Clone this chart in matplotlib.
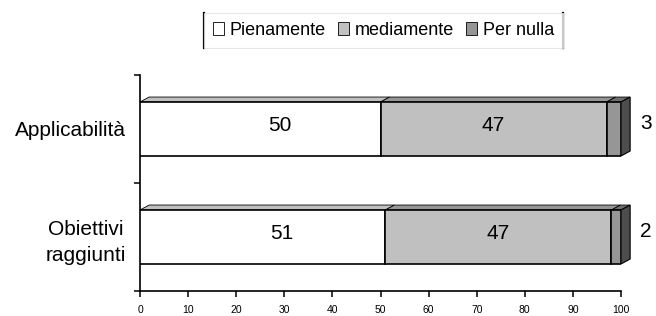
import matplotlib
matplotlib.use("Agg")
import matplotlib.pyplot as plt
from matplotlib.patches import Polygon, Patch
from matplotlib.lines import Line2D

plt.rcParams['font.family'] = ['Liberation Sans', 'DejaVu Sans']

# data
categorie = ["Obiettivi\nraggiunti", "Applicabilità"]
serie = ["Pienamente", "mediamente", "Per nulla"]
pienamente = [51, 50]
mediamente = [47, 47]
per_nulla = [2, 3]

colori = ["#FFFFFF", "#C0C0C0", "#969696"]
colori_top = ["#C0C0C0", "#969696", "#6E6E6E"]
colore_lato = "#4D4D4D"

fig = plt.figure(figsize=(6.56, 3.16), dpi=100)
ax = fig.add_axes([140 / 656, 25 / 316, 481 / 656, 216 / 316])

h = 0.5
dx, dy = 1.9, 0.046   # profondita' 3D in unita' dati

valori = [pienamente, mediamente, per_nulla]
y = list(range(len(categorie)))
left = [0] * len(categorie)
for k, vals in enumerate(valori):
    ax.barh(y, vals, height=h, left=left, color=colori[k],
            edgecolor="black", linewidth=1.2, zorder=3)
    for i in y:
        x0, x1 = left[i], left[i] + vals[i]
        yt = i + h / 2
        top = Polygon([(x0, yt), (x1, yt), (x1 + dx, yt + dy), (x0 + dx, yt + dy)],
                      closed=True, facecolor=colori_top[k], edgecolor="black",
                      linewidth=0.6, zorder=2, clip_on=False)
        ax.add_patch(top)
    left = [left[i] + vals[i] for i in y]

# faccia laterale alla fine
for i in y:
    xe = left[i]
    yb, yt = i - h / 2, i + h / 2
    lato = Polygon([(xe, yb), (xe, yt), (xe + dx, yt + dy), (xe + dx, yb + dy)],
                   closed=True, facecolor=colore_lato, edgecolor="black",
                   linewidth=0.8, zorder=2, clip_on=False)
    ax.add_patch(lato)

# etichette valori
for i in y:
    ax.text(pienamente[i] / 2 + 4, i + 0.035, str(pienamente[i]),
            ha="center", va="center", fontsize=15, zorder=5)
    ax.text(pienamente[i] + mediamente[i] / 2, i + 0.035, str(mediamente[i]),
            ha="center", va="center", fontsize=15, zorder=5)
    ax.text(104, i + 0.05, str(per_nulla[i]), ha="left", va="center",
            fontsize=15, clip_on=False)

ax.set_xlim(0, 100)
ax.set_ylim(-0.5, 1.5)
ax.set_xticks(range(0, 101, 10))
ax.tick_params(axis="x", labelsize=7.5, direction="out", length=4, width=1.1, pad=6)
ax.set_yticks(y)
ax.set_yticklabels(categorie, fontsize=15, multialignment="center", linespacing=1.45)
ax.tick_params(axis="y", length=0, pad=10)
ax.set_yticks([-0.5, 0.5, 1.5], minor=True)
ax.tick_params(axis="y", which="minor", length=4, width=1.1, direction="out")

for s in ["top", "right"]:
    ax.spines[s].set_visible(False)
for s in ["left", "bottom"]:
    ax.spines[s].set_linewidth(1.2)

handles = [Patch(facecolor=c, edgecolor="black", linewidth=0.6) for c in colori]
leg = fig.legend(handles, serie, loc="center", bbox_to_anchor=(383.5 / 656, 1 - 30.2 / 316),
                 ncol=3, fontsize=13, frameon=True, fancybox=False,
                 handlelength=0.6, handleheight=0.72, handletextpad=0.35,
                 columnspacing=0.65, borderpad=0.5, borderaxespad=0)
leg.get_frame().set_edgecolor("#E0E0E0")
leg.get_frame().set_linewidth(0.8)

fig.canvas.draw()
bb = leg.get_window_extent().transformed(fig.transFigure.inverted())
for xl in [bb.x0, bb.x1]:
    fig.add_artist(Line2D([xl, xl], [bb.y0, bb.y1], color="black", linewidth=1.6,
                          transform=fig.transFigure))

fig.savefig("out.png", dpi=100)
